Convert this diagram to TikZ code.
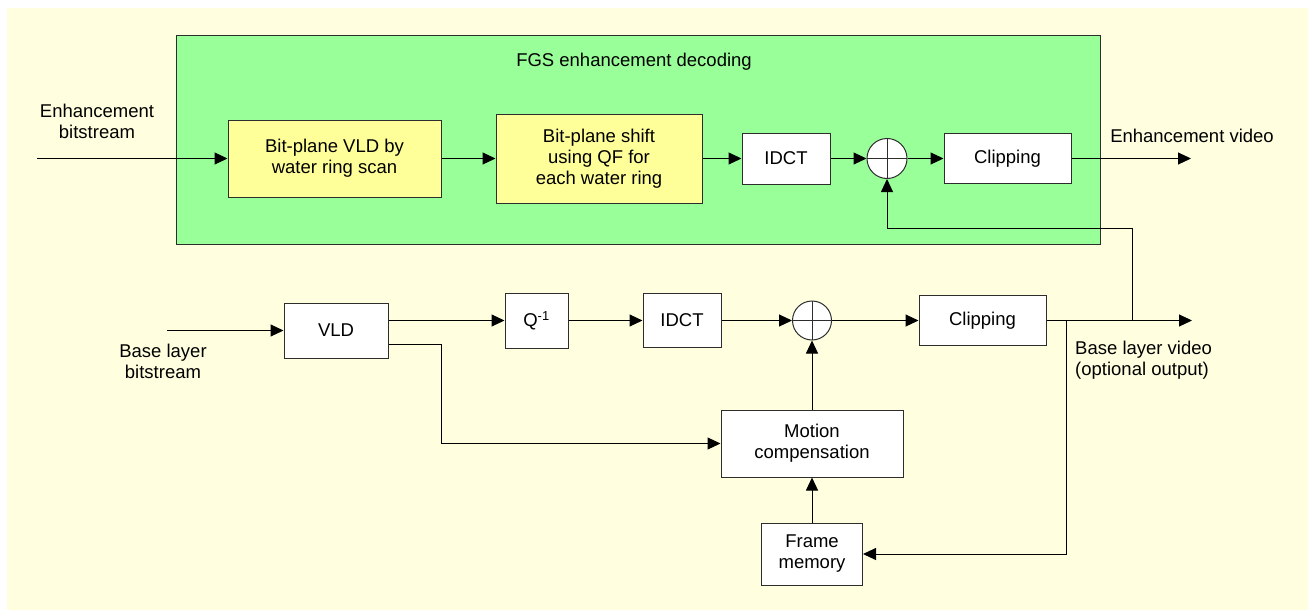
\documentclass[tikz,border=0pt]{standalone}
\usepackage{fontspec}
\setmainfont{Liberation Sans}
\usetikzlibrary{arrows.meta,calc}
\definecolor{cream}{RGB}{255,255,224}
\definecolor{fgsgreen}{RGB}{153,255,153}
\definecolor{boxyellow}{RGB}{255,255,153}
\definecolor{edgecol}{RGB}{45,45,45}
\begin{document}
\begin{tikzpicture}[x=1pt,y=-1pt,
  every node/.style={font=\fontsize{18.5}{21}\selectfont, text=black},
  blk/.style={draw=edgecol, line width=1pt, fill=white, inner sep=0pt, align=center, rectangle},
  ybox/.style={blk, fill=boxyellow},
  sumnode/.style={draw=edgecol, line width=1pt, fill=white, circle, inner sep=0pt, minimum size=#1,
    path picture={\draw[line width=1pt, edgecol] (path picture bounding box.west) -- (path picture bounding box.east)
      (path picture bounding box.north) -- (path picture bounding box.south);}},
  conn/.style={line width=1pt, draw=black},
  arr/.style={conn, -{Triangle[length=13pt,width=12pt]}},
  lbl/.style={align=center, inner sep=0pt}
]
\useasboundingbox (0,0) rectangle (1308,610);
\fill[cream] (7,8) rectangle (1308,610);

% FGS enhancement area
\node[draw=edgecol, fill=fgsgreen, line width=1pt, inner sep=0pt, minimum width=924pt, minimum height=208pt] (fgs) at (638,140) {};
\node[lbl] (fgst) at (634,62) {FGS enhancement decoding};

\node[lbl] (elbl) at (97,121) {Enhancement\\bitstream};
\coordinate (ein) at (37,158.5);
\node[ybox, minimum width=213pt, minimum height=77pt] (b1) at (334.5,158.5) {Bit-plane VLD by\\water ring scan};
\node[ybox, minimum width=206pt, minimum height=89pt] (b2) at (599,158.5) {Bit-plane shift\\using QF for\\each water ring};
\node[blk, minimum width=88pt, minimum height=51pt] (idct1) at (786,158.5) {IDCT};
\node[sumnode=40pt] (s1) at (887,158.5) {};
\node[blk, minimum width=127pt, minimum height=50pt] (c1) at (1007.5,158.5) {Clipping};
\coordinate (eout) at (1191,158.5);
\node[lbl] (evlbl) at (1192,136) {Enhancement video};

% Base layer
\node[lbl] (blbl) at (163,361) {Base layer\\bitstream};
\coordinate (bin) at (167,330.5);
\node[blk, minimum width=104pt, minimum height=55pt] (vld) at (336,330.5) {VLD};
\node[blk, minimum width=63pt, minimum height=55pt] (q) at (536.5,320.5) {Q\textsuperscript{-1}};
\node[blk, minimum width=78pt, minimum height=54pt] (idct2) at (682,320.5) {IDCT};
\node[sumnode=39pt] (s2) at (812,320.5) {};
\node[blk, minimum width=127pt, minimum height=50pt] (c2) at (982.5,320.5) {Clipping};
\node[blk, minimum width=182pt, minimum height=67pt] (mc) at (812,443.5) {Motion\\compensation};
\node[blk, minimum width=101pt, minimum height=62pt] (fm) at (812,554) {Frame\\memory};
\coordinate (bout) at (1192,320.5);
\coordinate (fb1) at (1132,320.5);
\coordinate (fbc) at (1132,228);
\coordinate (fb2) at (1066,320.5);
\node[lbl, align=left, anchor=west] (bvlbl) at (1075,360) {Base layer video\\(optional output)};

% connectors, top
\draw[arr] (ein) -- (b1.west);
\draw[arr] (b1) -- (b2);
\draw[arr] (b2) -- (idct1);
\draw[arr] (idct1) -- (s1);
\draw[arr] (s1) -- (c1);
\draw[arr] (c1.east) -- (eout);
\draw[arr] (fb1) -- (fbc) -| (s1.south);

% connectors, bottom
\draw[arr] (bin) -- (vld.west);
\draw[arr] (vld.east |- q.west) -- (q.west);
\draw[arr] ($(vld.south east)+(0,-14)$) -- ++(53,0) |- (mc.west);
\draw[arr] (q) -- (idct2);
\draw[arr] (idct2) -- (s2);
\draw[arr] (s2) -- (c2);
\draw[arr] (c2.east) -- (bout);
\draw[arr] (mc) -- (s2);
\draw[arr] (fm) -- (mc);
\draw[arr] (fb2) |- (fm.east);
\end{tikzpicture}
\end{document}
